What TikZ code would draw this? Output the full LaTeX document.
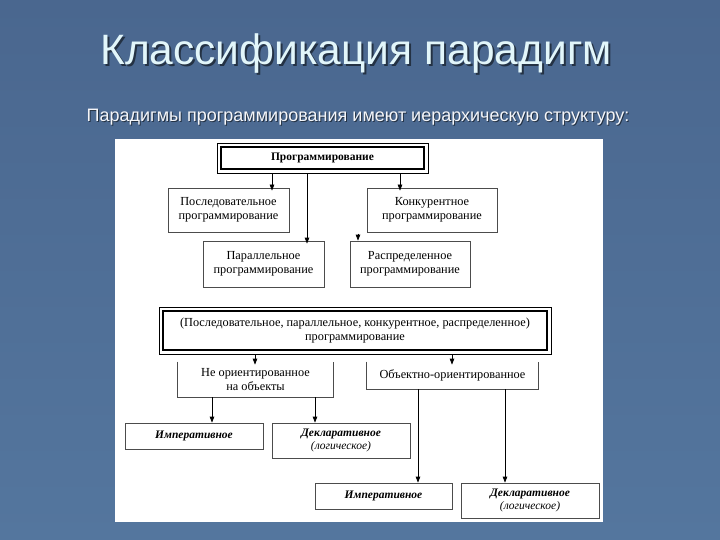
\documentclass[tikz,border=0pt]{standalone}
\usepackage{fontspec}
\usepackage{xcolor}
\usepackage{tikz}
\usetikzlibrary{arrows.meta,positioning,calc}
\setmainfont{Liberation Serif}
\newfontfamily\slidefont{Liberation Sans}
\definecolor{slidebg}{RGB}{80,112,152}
\definecolor{slidetop}{RGB}{74,103,143}
\definecolor{slidebot}{RGB}{84,118,158}
\definecolor{titlecol}{RGB}{226,246,250}

\begin{document}
\begin{tikzpicture}[x=1pt,y=-1pt,
  block/.style={rectangle,draw=black!70,fill=white,line width=0.7pt,align=center,
                font=\fontsize{12.3}{14.5}\selectfont,inner sep=1pt},
  mainblock/.style={block,draw=black,line width=2.2pt},
  openblock/.style={block,draw=none},
  leaf/.style={block,font=\fontsize{11.5}{13}\selectfont\bfseries\itshape},
  arr/.style={-{Triangle[length=6pt,width=4.5pt]},line width=0.7pt}]
\useasboundingbox (0,0) rectangle (720,540);
\shade[top color=slidetop,bottom color=slidebot] (0,0) rectangle (720,540);
% title and subtitle
\node[anchor=base,text=black!55!slidebg,font=\slidefont\fontsize{42.5}{48}\selectfont] (titleshadow) at (358,67) {Классификация парадигм};
\node[anchor=base,text=titlecol,font=\slidefont\fontsize{42.5}{48}\selectfont] (title) at (356,65) {Классификация парадигм};
\node[anchor=base,text=black!55!slidebg,font=\slidefont\fontsize{18}{20}\selectfont] (subshadow) at (359,123) {Парадигмы программирования имеют иерархическую структуру:};
\node[anchor=base,text=white!94!slidebg,font=\slidefont\fontsize{18}{20}\selectfont] (subtitle) at (358,122) {Парадигмы программирования имеют иерархическую структуру:};
\fill[white] (115,139) rectangle (603,522);
% upper part
\node[mainblock,font=\fontsize{11.5}{13}\selectfont\bfseries,minimum width=203pt,minimum height=22pt] (prog) at (322.5,158) {Программирование};
\draw[line width=0.6pt] ([shift={(-3pt,-3pt)}]prog.south west) rectangle ([shift={(3pt,3pt)}]prog.north east);
\node[block,minimum width=121pt,minimum height=44pt] (posl) at (228.5,210) {Последовательное\\программирование};
\node[block,minimum width=130pt,minimum height=44pt] (konk) at (432,210) {Конкурентное\\программирование};
\node[block,minimum width=121pt,minimum height=46pt] (paral) at (263.5,264) {Параллельное\\программирование};
\node[block,minimum width=120pt,minimum height=46pt] (raspr) at (410,264) {Распределенное\\программирование};
\draw[arr] ([xshift=-50.5pt,yshift=-3pt]prog.south) -- ([xshift=-50.5pt,yshift=-3pt]prog.south |- posl.north);
\draw[arr] ([xshift=-15.5pt,yshift=-3pt]prog.south) -- ([xshift=-15.5pt,yshift=-3pt]prog.south |- paral.north);
\draw[arr] ([xshift=77.5pt,yshift=-3pt]prog.south) -- ([xshift=77.5pt,yshift=-3pt]prog.south |- konk.north);
\coordinate (rtop) at ([xshift=-52pt,yshift=7pt]raspr.north);
\draw[arr] (rtop) -- (rtop |- raspr.north);
% lower part
\node[mainblock,font=\fontsize{12.3}{14}\selectfont,minimum width=384pt,minimum height=39pt] (all) at (355,330.5) {(Последовательное, параллельное, конкурентное, распределенное)\\программирование};
\draw[line width=0.6pt] ([shift={(-3pt,-3pt)}]all.south west) rectangle ([shift={(3pt,3pt)}]all.north east);
\node[openblock,minimum width=155pt,minimum height=35pt] (neor) at (255.5,379.5) {Не ориентированное\\на объекты};
\draw[line width=0.7pt,black!70] (neor.north west) |- (neor.south east) -- (neor.north east);
\node[openblock,minimum width=171pt,minimum height=27pt] (oop) at (452.5,375.5) {Объектно-ориентированное};
\draw[line width=0.7pt,black!70] (oop.north west) |- (oop.south east) -- (oop.north east);
\draw[arr] ([xshift=-100pt,yshift=-3pt]all.south) -- ([xshift=-100pt,yshift=-3pt]all.south |- neor.north);
\draw[arr] ([xshift=97pt,yshift=-3pt]all.south) -- ([xshift=97pt,yshift=-3pt]all.south |- oop.north);
\node[leaf,minimum width=138pt,minimum height=26pt] (imp1) at (194,436) {Императивное};
\node[leaf,minimum width=138pt,minimum height=35pt] (decl1) at (341,440.5) {Декларативное\\{\normalfont\itshape(логическое)}};
\node[leaf,minimum width=137pt,minimum height=26pt] (imp2) at (383.5,496) {Императивное};
\node[leaf,minimum width=138pt,minimum height=35pt] (decl2) at (530,500.5) {Декларативное\\{\normalfont\itshape(логическое)}};
\draw[arr] ([xshift=-43.5pt]neor.south) -- ([xshift=-43.5pt]neor.south |- imp1.north);
\draw[arr] ([xshift=59.5pt]neor.south) -- ([xshift=59.5pt]neor.south |- decl1.north);
\draw[arr] ([xshift=-34.5pt]oop.south) -- ([xshift=-34.5pt]oop.south |- imp2.north);
\draw[arr] ([xshift=52.5pt]oop.south) -- ([xshift=52.5pt]oop.south |- decl2.north);
\end{tikzpicture}
\end{document}
